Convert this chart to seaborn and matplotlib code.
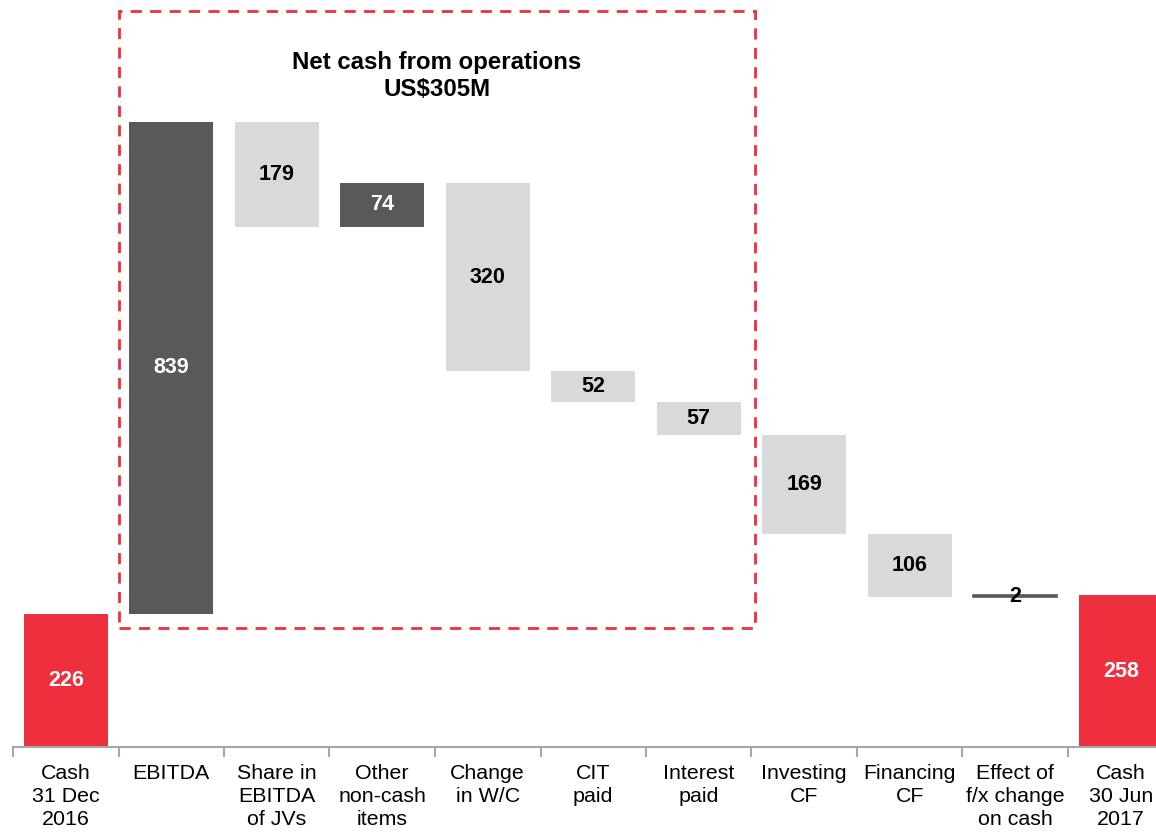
import numpy as np
import pandas as pd
import matplotlib
matplotlib.use("Agg")
import matplotlib.pyplot as plt
from matplotlib.patches import Rectangle
import seaborn as sns

# Data
categories = ["Cash\n31 Dec\n2016", "EBITDA", "Share in\nEBITDA\nof JVs", "Other\nnon-cash\nitems",
              "Change\nin W/C", "CIT\npaid", "Interest\npaid", "Investing\nCF", "Financing\nCF",
              "Effect of\nf/x change\non cash", "Cash\n30 Jun\n2017"]
changes = [226, 839, -179, 74, -320, -52, -57, -169, -106, 2, 258]
kinds = ["total", "up", "down", "up", "down", "down", "down", "down", "down", "up", "total"]
box_title = "Net cash from operations\nUS$305M"

colors = {"total": "#EE2F3E", "up": "#595959", "down": "#D9D9D9"}
text_colors = {"total": "white", "up": "white", "down": "black"}

# Waterfall bottoms
bottoms = []
level = 0
for c, k in zip(changes, kinds):
    if k == "total":
        bottoms.append(0)
        level = c
    else:
        bottoms.append(min(level, level + c))
        level += c

df = pd.DataFrame({"cat": categories, "height": np.abs(changes), "kind": kinds, "bottom": bottoms})

sns.set_style("white")
plt.rcParams["font.family"] = ["Liberation Sans", "DejaVu Sans"]
plt.rcParams["text.color"] = "black"
plt.rcParams["xtick.color"] = "black"

fig = plt.figure(figsize=(11.56, 8.32), dpi=100)
ax = fig.add_axes([13 / 1156, 85 / 832, 1160.5 / 1156, 747 / 832])

sns.barplot(data=df, x="cat", y="height", hue="cat", palette=[colors[k] for k in kinds],
            width=0.8, legend=False, ax=ax, saturation=1, linewidth=0)

for i, p in enumerate(ax.patches):
    p.set_y(bottoms[i])
    if i == 9:
        p.set_edgecolor("#595959")
        p.set_linewidth(1.2)
    cy = bottoms[i] + abs(changes[i]) / 2
    col = "black" if i == 9 else text_colors[kinds[i]]
    ax.text(i, cy, str(abs(changes[i])), ha="center", va="center", fontsize=15.5,
            fontweight="bold", color=col)

ax.set_ylim(0, 1272)
ax.set_xlim(-0.5, 10.5)
ax.set_xlabel("")
ax.set_ylabel("")
ax.set_yticks([])

for s in ["top", "right", "left"]:
    ax.spines[s].set_visible(False)
ax.spines["bottom"].set_color("#A6A6A6")
ax.spines["bottom"].set_linewidth(1.5)

ax.set_xticks(range(len(categories)))
ax.set_xticklabels(categories, fontsize=15.4, linespacing=1.27, color="black")
ax.tick_params(axis="x", which="major", length=0, pad=12)
ax.set_xticks(np.arange(-0.5, 11, 1), minor=True)
ax.tick_params(axis="x", which="minor", bottom=True, length=7, width=1.5,
               color="#A6A6A6", direction="out")

# Dashed box around operating items
ax.add_patch(Rectangle((0.5, 203), 6.03, 1050, fill=False, edgecolor="#EE2F3E",
                       linestyle=(0, (4, 3)), linewidth=2, clip_on=False, zorder=5))
ax.text(3.52, 1143, box_title, ha="center", va="center", fontsize=17.3,
        fontweight="bold", linespacing=1.25, color="black")

plt.savefig("out.png", dpi=100)
